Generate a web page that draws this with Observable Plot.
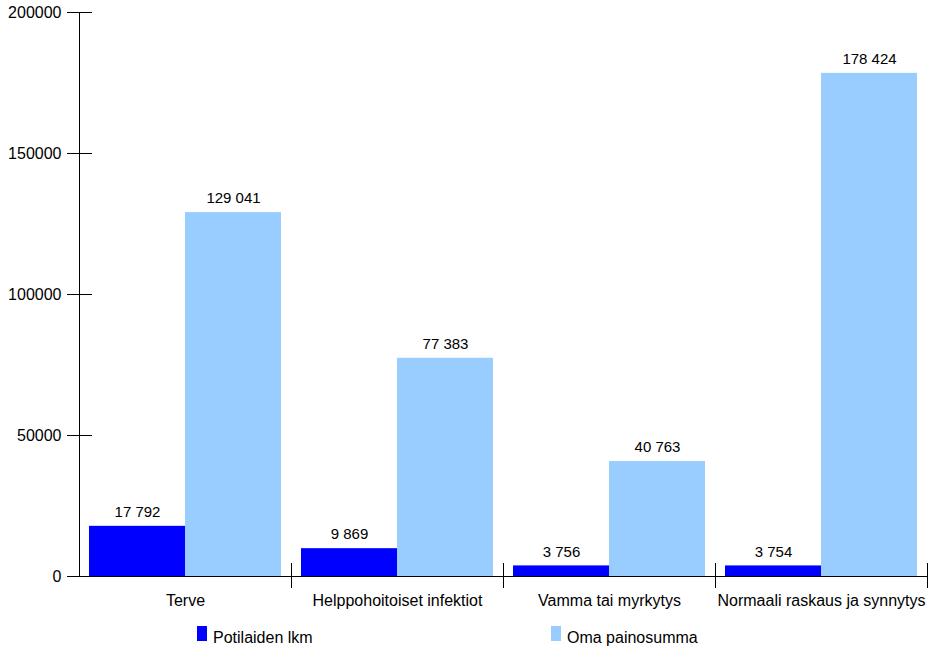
<!DOCTYPE html>
<html>
<head>
<meta charset="utf-8">
<script src="https://cdn.jsdelivr.net/npm/d3@7"></script>
<script src="https://cdn.jsdelivr.net/npm/@observablehq/plot@0.6"></script>
<style>
  body { margin: 0; background: #fff; font-family: "Liberation Sans", Arial, sans-serif; }
  #wrap { position: relative; width: 932px; height: 647px; }
  #chart svg { display: block; }
  .legend { position: absolute; left: 0; top: 612px; width: 932px; height: 35px; font-size: 16px; color: #000; }
  .item { position: absolute; top: 14px; height: 15px; display: flex; align-items: center; white-space: nowrap; }
  .swatch { width: 10px; height: 15px; margin-right: 6px; }
  .name { position: relative; top: 4px; }
</style>
</head>
<body>
<div id="wrap">
  <div id="chart"></div>
  <div class="legend" id="legend"></div>
</div>
<script>
// Categories, series and values
const categories = ["Terve", "Helppohoitoiset infektiot", "Vamma tai myrkytys", "Normaali raskaus ja synnytys"];
const seriesNames = ["Potilaiden lkm", "Oma painosumma"];
const patients = [17792, 9869, 3756, 3754];
const weightSums = [129041, 77383, 40763, 178424];
const yTicks = [0, 50000, 100000, 150000, 200000];
const seriesColors = ["#0000FF", "#99CCFF"];

const rows = categories.flatMap((category, i) => [
  {category, series: seriesNames[0], value: patients[i]},
  {category, series: seriesNames[1], value: weightSums[i]}
]);

// Finnish-style grouping with a space
const fmt = d3.formatLocale({decimal: ",", thousands: " ", grouping: [3], currency: ["", ""]}).format(",d");

const W = 932, H = 612, mL = 79, mR = 5, mT = 12, mB = 36;
const halfGroup = (W - mL - mR) / categories.length / 2;

const chart = Plot.plot({
  width: W,
  height: H,
  marginLeft: mL,
  marginRight: mR,
  marginTop: mT,
  marginBottom: mB,
  style: {fontFamily: "'Liberation Sans', Arial, sans-serif", fontSize: "16px", color: "#000", background: "#fff", overflow: "visible"},
  fx: {domain: categories, padding: 0, label: null},
  x: {domain: seriesNames, paddingInner: 0, paddingOuter: 0.104, axis: null},
  y: {domain: [0, 200000], label: null},
  color: {domain: seriesNames, range: seriesColors},
  marks: [
    Plot.barY(rows, {fx: "category", x: "series", y: "value", fill: "series"}),
    Plot.text(rows, {fx: "category", x: "series", y: "value", text: d => fmt(d.value), dy: -14, fontSize: 15, fill: "#000"}),
    Plot.ruleY([0], {stroke: "#000"}),
    // y axis line on the leftmost facet
    Plot.frame({anchor: "left", facetAnchor: "left", stroke: "#000"}),
    // y ticks crossing the axis line, and their labels
    Plot.axisY(yTicks, {tickSize: 25, dx: 13, text: null, label: null, stroke: "#000"}),
    Plot.axisY(yTicks, {tickSize: 0, tickPadding: 18, tickFormat: d3.format("d"), label: null, fill: "#000"}),
    // category separators crossing the x axis
    Plot.axisFx({anchor: "bottom", tickSize: 25, dx: halfGroup, dy: -13, text: null, label: null, stroke: "#000"}),
    // category labels
    Plot.axisFx({anchor: "bottom", tickSize: 0, tickPadding: 18, label: null, fill: "#000"})
  ]
});
document.getElementById("chart").appendChild(chart);

// Legend below the chart
const legendX = [197, 551];
const legend = document.getElementById("legend");
seriesNames.forEach((name, i) => {
  const item = document.createElement("div");
  item.className = "item";
  item.style.left = legendX[i] + "px";
  const sw = document.createElement("span");
  sw.className = "swatch";
  sw.style.background = seriesColors[i];
  const label = document.createElement("span");
  label.className = "name";
  label.textContent = name;
  item.append(sw, label);
  legend.appendChild(item);
});
</script>
</body>
</html>
